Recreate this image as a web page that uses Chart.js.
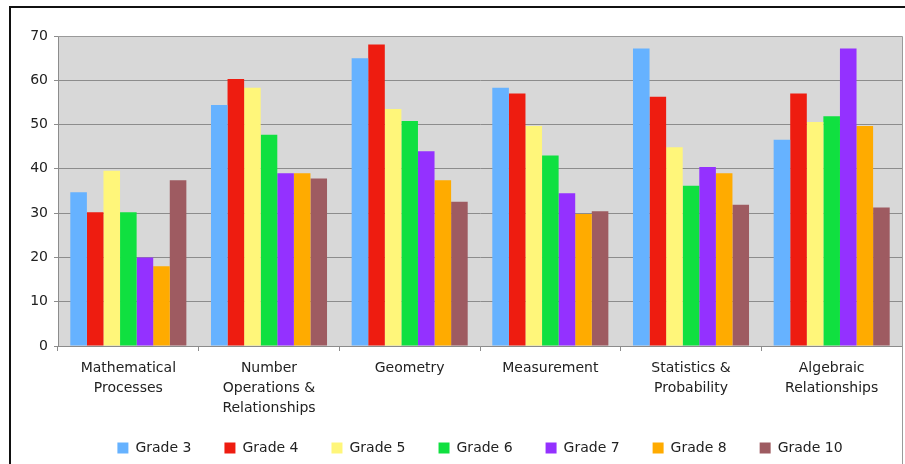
<!DOCTYPE html>
<html>
<head>
<meta charset="utf-8">
<script src="https://cdn.jsdelivr.net/npm/chart.js@4.4.1/dist/chart.umd.min.js"></script>
<style>
  html, body { margin: 0; padding: 0; background: #ffffff; }
  #wrap { position: relative; width: 905px; height: 464px; }
</style>
</head>
<body>
<div id="wrap"><canvas id="c" width="905" height="464"></canvas></div>
<script>
const categories = [
  ["Mathematical", "Processes"],
  ["Number", "Operations &", "Relationships"],
  ["Geometry"],
  ["Measurement"],
  ["Statistics &", "Probability"],
  ["Algebraic", "Relationships"]
];
const seriesNames = ["Grade 3", "Grade 4", "Grade 5", "Grade 6", "Grade 7", "Grade 8", "Grade 10"];
const grade3  = [34.7, 54.4, 65.0, 58.3, 67.2, 46.6];
const grade4  = [30.2, 60.3, 68.1, 57.0, 56.3, 57.0];
const grade5  = [39.6, 58.3, 53.5, 49.7, 44.9, 50.6];
const grade6  = [30.2, 47.7, 50.8, 43.0, 36.2, 51.9];
const grade7  = [20.0, 39.0, 44.0, 34.5, 40.4, 67.2];
const grade8  = [18.0, 39.0, 37.4, 29.8, 39.0, 49.7];
const grade10 = [37.4, 37.8, 32.6, 30.4, 31.9, 31.3];
const yTicks = [0, 10, 20, 30, 40, 50, 60, 70];

const seriesValues = [grade3, grade4, grade5, grade6, grade7, grade8, grade10];
const colors = ["#66b2ff", "#ee1c10", "#fff67a", "#10e040", "#9431ff", "#ffab00", "#9e5b61"];

const frame = {
  id: 'frame',
  beforeDraw(chart) {
    const ctx = chart.ctx;
    ctx.save();
    ctx.fillStyle = '#ffffff';
    ctx.fillRect(0, 0, chart.width, chart.height);
    const a = chart.chartArea;
    ctx.fillStyle = '#d8d8d8';
    ctx.fillRect(a.left, a.top, a.right - a.left, a.bottom - a.top);
    ctx.restore();
  },
  afterDraw(chart) {
    const ctx = chart.ctx;
    const a = chart.chartArea;
    ctx.save();
    ctx.strokeStyle = '#9a9a9a';
    ctx.lineWidth = 1;
    ctx.beginPath();
    ctx.moveTo(a.left, a.top + 0.5);
    ctx.lineTo(a.right + 0.5, a.top + 0.5);
    ctx.lineTo(a.right + 0.5, chart.height);
    ctx.stroke();
    ctx.strokeStyle = '#111111';
    ctx.lineWidth = 2;
    ctx.beginPath();
    ctx.moveTo(10, chart.height);
    ctx.lineTo(10, 7);
    ctx.lineTo(chart.width, 7);
    ctx.stroke();
    ctx.restore();
  }
};

new Chart(document.getElementById('c'), {
  type: 'bar',
  data: {
    labels: categories,
    datasets: seriesNames.map((n, i) => ({
      label: n,
      data: seriesValues[i],
      backgroundColor: colors[i],
      borderWidth: 0,
      barPercentage: 1.0,
      categoryPercentage: 0.825
    }))
  },
  options: {
    responsive: false,
    animation: false,
    devicePixelRatio: 1,
    layout: { padding: { top: 36, left: 10, right: 3, bottom: -1 } },
    plugins: {
      legend: {
        position: 'bottom',
        fullSize: false,
        labels: {
          font: { family: 'DejaVu Sans', size: 14 },
          color: '#222222',
          boxWidth: 11,
          boxHeight: 11,
          padding: 33
        }
      },
      tooltip: { enabled: false }
    },
    scales: {
      x: {
        grid: { display: true, drawOnChartArea: false, drawTicks: true, tickLength: 5, color: '#8c8c8c' },
        border: { display: true, color: '#8c8c8c' },
        ticks: {
          font: { family: 'DejaVu Sans', size: 14, lineHeight: 1.43 },
          color: '#222222',
          padding: 7,
          maxRotation: 0,
          autoSkip: false
        },
        afterFit(scale) {
          scale.height = 62;
          scale._computeLabelArea = () => undefined;
        }
      },
      y: {
        min: 0,
        max: 70,
        afterBuildTicks(scale) { scale.ticks = yTicks.map(v => ({ value: v })); },
        grid: { color: '#8c8c8c', tickLength: 4, drawTicks: true },
        border: { display: true, color: '#8c8c8c' },
        ticks: {
          font: { family: 'DejaVu Sans', size: 14 },
          color: '#222222',
          padding: 6
        },
        afterFit(scale) { scale.width = 48; }
      }
    }
  },
  plugins: [frame]
});
</script>
</body>
</html>
